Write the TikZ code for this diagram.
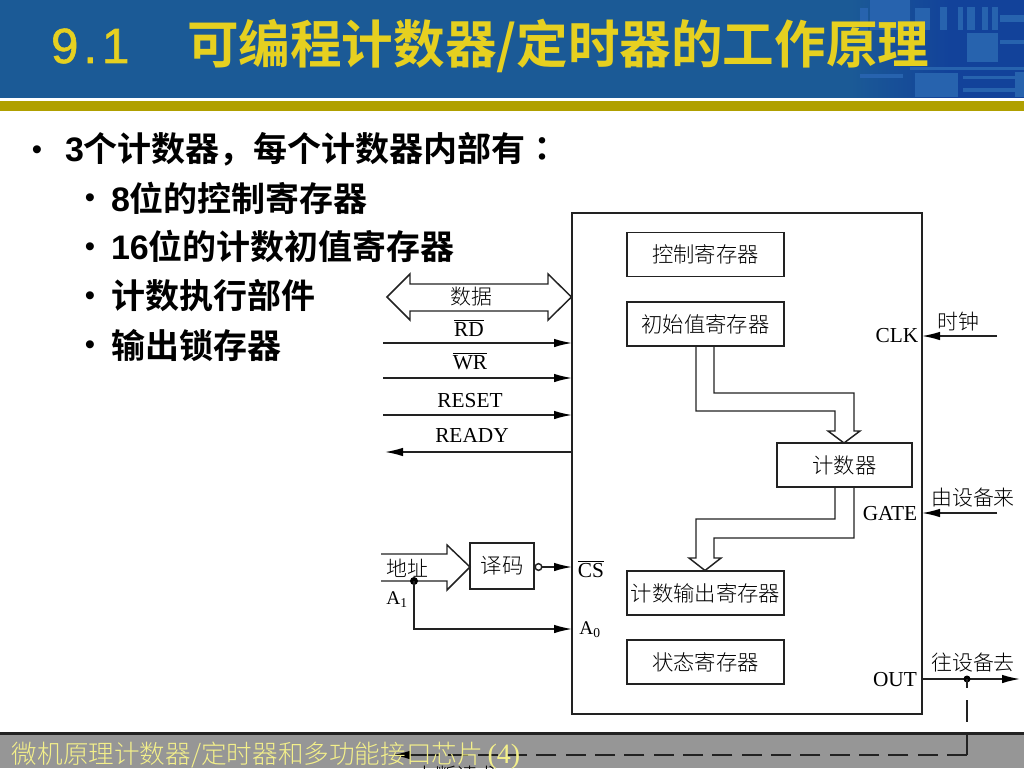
\documentclass[tikz,border=0pt]{standalone}
\usepackage{fontspec}
\usetikzlibrary{arrows.meta,calc}
\setmainfont{Liberation Serif}
\newfontfamily\cjkb{Noto Sans CJK SC Bold}
\newfontfamily\cjktc{Noto Sans CJK TC Bold}
\newfontfamily\cjkl{Noto Sans CJK SC Light}
\newfontfamily\arialf{Liberation Sans}
\newfontfamily\arialfb[FakeBold=1.2]{Liberation Sans}
\definecolor{hdr}{HTML}{1B5A96}
\definecolor{hdrd}{HTML}{12429A}
\definecolor{hdrl}{HTML}{2763AE}
\definecolor{olivebar}{HTML}{B0A000}
\definecolor{titley}{HTML}{E6D020}
\definecolor{foot}{HTML}{969696}
\definecolor{foott}{HTML}{F4F08A}
\definecolor{ink}{HTML}{222222}
\tikzset{
  every node/.style={inner sep=0pt,outer sep=0pt,text=black},
  ln/.style={draw=ink,line width=1.1pt},
  sig/.style={ln,-{Latex[length=13.5pt,width=6.4pt,color=black]}},
  regbox/.style={ln,fill=white,minimum width=117.75pt,minimum height=33pt,align=center,font=\fontsize{16}{20}\cjkl},
  lat/.style={font=\fontsize{16}{18}\selectfont},
  cn/.style={font=\fontsize{15.7}{18}\cjkl},
  hollow/.style={ln,fill=white,line join=miter},
  body/.style={anchor=west,font=\fontsize{25.5}{30}\cjkb},
  bul/.style={font=\fontsize{22}{24}\arialf},
  deco/.style={fill=hdrl,draw=none}
}
\begin{document}
\begin{tikzpicture}[x=0.75pt,y=-0.75pt]
\useasboundingbox (0,0) rectangle (1024,768);
\clip (0,0) rectangle (1024,768);
\fill[white] (0,0) rectangle (1024,768);
% header
\fill[hdr] (0,0) rectangle (1024,98);
\shade[left color=hdr,right color=hdrd,draw=none] (850,0) rectangle (950,98);
\fill[hdrd] (950,0) rectangle (1024,98);
\foreach \a/\b/\c/\d in {870/0/910/30, 860/8/868/40, 940/7/947/30, 958/7/963/30, 967/7/975/30, 982/7/988/30, 992/7/998/30, 1000/15/1024/22, 967/33/998/62, 915/73/958/97, 860/74/903/78, 915/8/930/30, 910/67/1024/70, 963/76/1015/79, 963/88/1015/92, 1000/40/1024/44, 1015/72/1024/97}
  \fill[deco] (\a,\b) rectangle (\c,\d);
\fill[white] (0,98) rectangle (1024,101);
\fill[olivebar] (0,101) rectangle (1024,111);
\node[anchor=west,text=titley] (num) at (51,46) {\fontsize{37}{46}\arialfb\addfontfeatures{LetterSpace=10}9.1};
\node[anchor=west,text=titley,font=\fontsize{38.7}{46}\cjkb] (ttl) at (187,46) {可编程计数器/定时器的工作原理};
% bullets
\node[bul] (b1) at (37,153) {•};
\node[body] (t1) at (65,149) {{\arialf\bfseries 3}个计数器，每个计数器内部有{\cjktc ：}};
\node[bul] (b2) at (90,201) {•};
\node[body] (t2) at (111,198) {{\arialf\bfseries 8}位的控制寄存器};
\node[bul] (b3) at (90,250) {•};
\node[body] (t3) at (111,246) {{\arialf\bfseries 16}位的计数初值寄存器};
\node[bul] (b4) at (90,299) {•};
\node[body] (t4) at (111,296) {计数执行部件};
\node[bul] (b5) at (90,348) {•};
\node[body] (t5) at (111,345) {输出锁存器};
% footer
\fill[foot] (0,733) rectangle (1024,768);
\fill[ink] (0,732) rectangle (1024,735);
% outer block
\node[ln,minimum width=262.5pt,minimum height=375.75pt] (outer) at (747,463.5) {};
% hollow bus arrows
\draw[hollow] (696,346) -- (696,411) -- (835,411) -- (835,431) -- (828,431) -- (844,443) -- (860,431) -- (854,431) -- (854,393) -- (714,393) -- (714,346);
\draw[hollow] (835,487) -- (835,519) -- (696,519) -- (696,558) -- (689,558) -- (705,570.5) -- (721,558) -- (714,558) -- (714,538) -- (854,538) -- (854,487);
\node[regbox] (ctrl) at (705.5,254.7) {控制寄存器};
\node[regbox] (init) at (705.5,324) {初始值寄存器};
\node[regbox,minimum width=101.25pt] (cnt) at (844.5,465) {计数器};
\node[regbox] (outr) at (705.5,593) {计数输出寄存器};
\node[regbox] (stat) at (705.5,662) {状态寄存器};
\node[regbox,minimum width=48pt,minimum height=34.5pt] (dec) at (502,566) {译码};
% data double arrow
\draw[hollow] (387,297) -- (410,274) -- (410,284) -- (548,284) -- (548,274) -- (571.5,297) -- (548,320) -- (548,311) -- (410,311) -- (410,320) -- cycle;
\node[cn] (data) at (471,297) {数据};
% left signals
\coordinate (rdS) at (383,343);
\coordinate (wrS) at (383,378);
\coordinate (rsS) at (383,415);
\coordinate (rdyE) at (385,452);
\draw[sig] (rdS) -- (rdS -| outer.west);
\draw[sig] (wrS) -- (wrS -| outer.west);
\draw[sig] (rsS) -- (rsS -| outer.west);
\draw[sig] (rdyE -| outer.west) -- (rdyE);
\node[lat] (lrd) at (469,328) {$\overline{\mbox{RD}}$};
\node[lat] (lwr) at (470,361) {$\overline{\mbox{WR}}$};
\node[lat] (lrs) at (470,401) {RESET};
\node[lat] (lry) at (472,435) {READY};
% address
\draw[ln] (381,554) -- (447,554) -- (447,545) -- (470,567) -- (447,590) -- (447,581) -- (381,581);
\coordinate (adot) at (414,581);
\fill[black] (adot) circle[radius=4];
\coordinate (a0in) at (adot |- 0,629);
\draw[sig] (adot) -- (a0in) -- (a0in -| outer.west);
\node[cn] (addr) at (407,568) {地址};
\node[font=\fontsize{14.5}{18}\selectfont] (la1) at (397,600) {A\textsubscript{1}};
\node[font=\fontsize{14.5}{18}\selectfont] (la0) at (590,630) {A\textsubscript{0}};
\node[lat] (lcs) at (591,569) {$\overline{\mbox{CS}}$};
\node[ln,circle,fill=white,minimum size=5pt] (inv) at (538.5,567) {};
\draw[sig] (inv.east) -- (inv.east -| outer.west);
% right signals
\coordinate (clkS) at (997,336);
\coordinate (gateS) at (997,513);
\coordinate (outE) at (1020,679);
\draw[sig] (clkS) -- (clkS -| outer.east);
\draw[sig] (gateS) -- (gateS -| outer.east);
\draw[sig] (outE -| outer.east) -- (outE);
\node[cn] (lclkc) at (958,322) {时钟};
\node[lat] (lclk) at (897,336) {CLK};
\node[cn] (lgc) at (973,498) {由设备来};
\node[lat] (lgate) at (890,514) {GATE};
\node[cn] (loc) at (973,663) {往设备去};
\node[lat] (lout) at (895,680) {OUT};
\coordinate (odot) at (967,679);
\fill[black] (odot) circle[radius=3.5];
% interrupt request
\coordinate (ocorner) at (967,755);
\coordinate (irqE) at (392,755);
\draw[ln] (odot) -- (967,688);
\draw[ln] (967,700) -- (967,722);
\draw[ln] (967,735) -- (ocorner);
\draw[ln,dash pattern=on 15pt off 7pt] (ocorner) -- (420,755);
\draw[sig] (425,755) -- (irqE);
\node[cn] (irq) at (456,776) {中断请求};
\node[anchor=west,text=foott,font=\fontsize{19.2}{22}\cjkl] (ft) at (12,755.5) {微机原理计数器/定时器和多功能接口芯片{\fontsize{21}{22}\rmfamily\,(4)}};
\end{tikzpicture}
\end{document}
